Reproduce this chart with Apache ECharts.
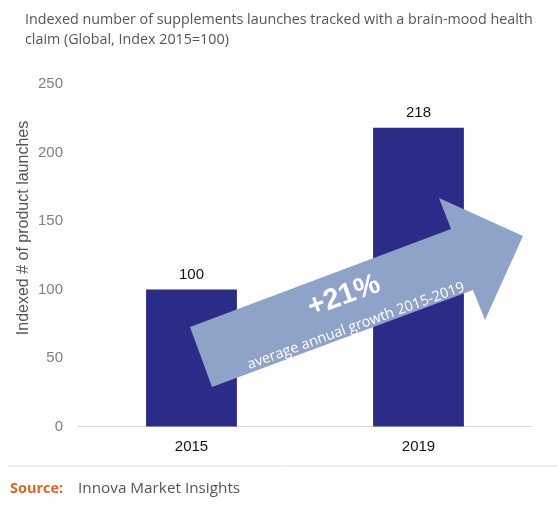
<!DOCTYPE html>
<html>
<head>
<meta charset="utf-8">
<script src="https://cdn.jsdelivr.net/npm/echarts@6/dist/echarts.min.js"></script>
<style>
  html, body { margin: 0; padding: 0; background: #fff; }
  #chart { width: 557px; height: 509px; }
</style>
</head>
<body>
<div id="chart"></div>
<script>
// 图表数据
var years = ['2015', '2019'];
var launchIndex = [100, 218];
var yTicks = [0, 50, 100, 150, 200, 250];

var chart = echarts.init(document.getElementById('chart'));

// 箭头形状（注释用，像素坐标）
var arrowPoints = [
    [190, 327], [451, 229], [439, 198], [523, 236],
    [485, 320], [473, 290], [212, 387]
];
var tilt = 20 * Math.PI / 180;

var option = {
    animation: false,
    title: {
        text: 'Indexed number of supplements launches tracked with a brain-mood health\nclaim (Global, Index 2015=100)',
        left: 20,
        top: 5,
        textStyle: {
            fontFamily: 'Open Sans',
            fontSize: 14.3,
            fontWeight: 'normal',
            color: '#555',
            lineHeight: 20
        }
    },
    grid: {
        left: 78,
        right: 25,
        top: 84,
        bottom: 82.5
    },
    xAxis: {
        type: 'category',
        data: years,
        axisTick: { show: false },
        axisLine: { lineStyle: { color: '#d9d9d9', width: 1 } },
        axisLabel: {
            margin: 13,
            fontSize: 15,
            color: '#111',
            fontFamily: 'Liberation Sans'
        }
    },
    yAxis: {
        type: 'value',
        min: yTicks[0],
        max: yTicks[yTicks.length - 1],
        interval: 50,
        splitLine: { show: false },
        axisLine: { show: false },
        axisTick: { show: false },
        axisLabel: {
            margin: 15,
            fontSize: 15,
            color: '#808080',
            fontFamily: 'Liberation Sans'
        }
    },
    series: [{
        type: 'bar',
        data: launchIndex,
        barWidth: '40%',
        itemStyle: { color: '#2b2c87' },
        label: {
            show: true,
            position: 'top',
            distance: 7,
            fontSize: 15,
            color: '#111',
            fontFamily: 'Liberation Sans'
        },
        z: 2
    }],
    graphic: [
        {
            type: 'text',
            x: 24,
            y: 228,
            rotation: Math.PI / 2,
            style: {
                text: 'Indexed # of product launches',
                fontSize: 16,
                fill: '#555',
                fontFamily: 'Liberation Sans',
                align: 'center',
                verticalAlign: 'middle'
            }
        },
        {
            type: 'polygon',
            shape: { points: arrowPoints },
            style: { fill: '#8fa3c8' },
            z: 10
        },
        {
            type: 'text',
            x: 344,
            y: 296,
            rotation: tilt,
            style: {
                text: '+21%',
                fontSize: 29,
                fontWeight: 'bold',
                fill: '#fff',
                fontFamily: 'Liberation Sans',
                align: 'center',
                verticalAlign: 'middle'
            },
            z: 11
        },
        {
            type: 'text',
            x: 356,
            y: 326,
            rotation: tilt,
            style: {
                text: 'average annual growth 2015-2019',
                fontSize: 14.5,
                fill: '#fff',
                fontFamily: 'Open Sans',
                align: 'center',
                verticalAlign: 'middle'
            },
            z: 11
        },
        {
            type: 'line',
            shape: { x1: 8, y1: 466, x2: 557, y2: 466 },
            style: { stroke: '#e0e0e0', lineWidth: 1 }
        },
        {
            type: 'text',
            x: 10,
            y: 489,
            style: {
                text: 'Source:',
                fontSize: 14.5,
                fontWeight: 'bold',
                fill: '#d9652c',
                fontFamily: 'Open Sans',
                verticalAlign: 'middle'
            }
        },
        {
            type: 'text',
            x: 78,
            y: 489,
            style: {
                text: 'Innova Market Insights',
                fontSize: 15.3,
                fill: '#555',
                fontFamily: 'Open Sans',
                verticalAlign: 'middle'
            }
        }
    ]
};

chart.setOption(option);
</script>
</body>
</html>
